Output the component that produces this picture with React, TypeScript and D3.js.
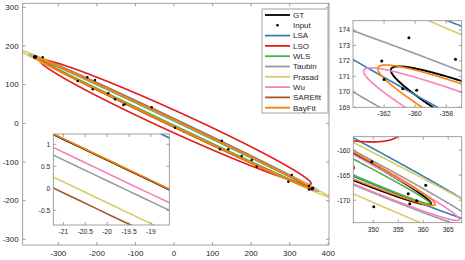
import React from 'react';
import * as d3 from 'd3';

const fitNames = ['GT', 'LSA', 'LSO', 'WLS', 'Taubin', 'Prasad', 'Wu', 'SAREfit', 'BayFit'];
const fitColors = ['#000000', '#377eb8', '#e41a1c', '#4daf4a', '#999999', '#d9cc66', '#f781bf', '#a65628', '#ff7f00'];
const centerX = [0, 0, 4, 2.5, 0, 0, 1.95, 0, 0];
const centerY = [0.35, 2.3, 3, -0.8, 0.0, 0.11, -1.25, 0.2, 0.35];
const semiMajor = [400, 415, 386, 397, 412, 448, 404, 383, 400.8];
const semiMinor = [8.3, 9, 27, 5, 8.4, 8.96, 7.95, 9.27, 8.28];
const angleDeg = [-25.33, -25.33, -24.4, -25.33, -25.3, -25.33, -25.3, -25.33, -25.29];

const inputX = [-360.4, -362.15, -357.4, -362.0, -360.8, -359.9, -340.4, -249.7, -224.8, -204.8, -210.8, -170.3, -153.0, -131.4, -128.0, -57.8, 2.6, 123.7, 119.3, 140.8, 175.5, 201.5, 214.4, 305.2, 296.3, 349.7, 360.5, 357.0, 358.7, 357.3, 350.1];
const inputY = [173.5, 172.0, 172.1, 170.8, 170.2, 170.1, 170.7, 109.4, 119.0, 112.0, 87.9, 77.6, 62.1, 47.3, 49.0, 41.4, -11.4, -45.0, -67.2, -67.2, -84.6, -94.9, -112.2, -133.7, -151.0, -162.3, -167.0, -168.7, -170.1, -170.7, -171.3];

const mainXTicks = [-300, -200, -100, 0, 100, 200, 300, 400];
const mainYTicks = [-300, -200, -100, 0, 100, 200, 300];
const inset1XTicks = [-21, -20.5, -20, -19.5, -19];
const inset1YTicks = [-0.5, 0, 0.5, 1];
const inset2XTicks = [-362, -360, -358];
const inset2YTicks = [169, 170, 171, 172, 173, 174];
const inset3XTicks = [350, 355, 360, 365];
const inset3YTicks = [-170, -165, -160];

const legendNames = ['GT', 'Input', 'LSA', 'LSO', 'WLS', 'Taubin', 'Prasad', 'Wu', 'SAREfit', 'BayFit'];

const AXIS_COLOR = '#8a8a8a';
const TEXT_COLOR = '#262626';
const FONT = 'Liberation Sans, Arial, Helvetica, sans-serif';

function ellipsePoints(i: number, n = 6000): [number, number][] {
  const th = (angleDeg[i] * Math.PI) / 180;
  const c = Math.cos(th), s = Math.sin(th);
  const pts: [number, number][] = [];
  for (let k = 0; k <= n; k++) {
    const t = (k / n) * 2 * Math.PI;
    const u = semiMajor[i] * Math.cos(t);
    const v = semiMinor[i] * Math.sin(t);
    pts.push([centerX[i] + u * c - v * s, centerY[i] + u * s + v * c]);
  }
  return pts;
}

type AxesProps = {
  id: string;
  left: number; top: number; width: number; height: number;
  xDomain: [number, number]; yDomain: [number, number];
  xTicks: number[]; yTicks: number[];
  fontSize: number; lw: number; dotR: number;
  xLabelDy: number; yLabelDx: number;
};

function Axes(p: AxesProps) {
  const xs = d3.scaleLinear().domain(p.xDomain).range([p.left, p.left + p.width]);
  const ys = d3.scaleLinear().domain(p.yDomain).range([p.top + p.height, p.top]);
  const line = d3.line<[number, number]>().x(d => xs(d[0])).y(d => ys(d[1]));
  const tl = 3;
  const bottom = p.top + p.height, right = p.left + p.width;
  return (
    <g>
      <defs>
        <clipPath id={p.id}>
          <rect x={p.left} y={p.top} width={p.width} height={p.height} />
        </clipPath>
      </defs>
      <rect x={p.left} y={p.top} width={p.width} height={p.height} fill="#fff" />
      <g clipPath={`url(#${p.id})`}>
        {fitNames.map((name, i) => (
          <path key={name} d={line(ellipsePoints(i)) || ''} fill="none" stroke={fitColors[i]}
            strokeWidth={i === 0 ? p.lw * 1.2 : p.lw} strokeLinejoin="round" />
        ))}
        {inputX.map((x, k) => (
          <circle key={k} cx={xs(x)} cy={ys(inputY[k])} r={p.dotR} fill="#000" />
        ))}
      </g>
      <rect x={p.left} y={p.top} width={p.width} height={p.height} fill="none" stroke={AXIS_COLOR} strokeWidth={0.8} />
      {p.xTicks.map(t => (
        <g key={'x' + t}>
          <line x1={xs(t)} x2={xs(t)} y1={bottom} y2={bottom - tl} stroke={AXIS_COLOR} strokeWidth={0.8} />
          <line x1={xs(t)} x2={xs(t)} y1={p.top} y2={p.top + tl} stroke={AXIS_COLOR} strokeWidth={0.8} />
          <text x={xs(t)} y={bottom + p.xLabelDy} textAnchor="middle" fontSize={p.fontSize} fill={TEXT_COLOR} fontFamily={FONT}>{String(t)}</text>
        </g>
      ))}
      {p.yTicks.map(t => (
        <g key={'y' + t}>
          <line x1={p.left} x2={p.left + tl} y1={ys(t)} y2={ys(t)} stroke={AXIS_COLOR} strokeWidth={0.8} />
          <line x1={right} x2={right - tl} y1={ys(t)} y2={ys(t)} stroke={AXIS_COLOR} strokeWidth={0.8} />
          <text x={p.left - p.yLabelDx} y={ys(t)} dy="0.35em" textAnchor="end" fontSize={p.fontSize} fill={TEXT_COLOR} fontFamily={FONT}>{String(t)}</text>
        </g>
      ))}
    </g>
  );
}

function Legend() {
  const x0 = 262, y0 = 9, w = 66, h = 104;
  const rowH = 10.3;
  const items = legendNames.map((name, k) => {
    const y = y0 + 6 + k * rowH;
    const fi = fitNames.indexOf(name);
    return (
      <g key={name}>
        {name === 'Input'
          ? <circle cx={277.5} cy={y} r={1.3} fill="#000" />
          : <line x1={265} x2={290} y1={y} y2={y} stroke={fitColors[fi]} strokeWidth={1.8} />}
        <text x={293} y={y} dy="0.35em" fontSize={8} fill={TEXT_COLOR} fontFamily={FONT}>{name}</text>
      </g>
    );
  });
  return (
    <g>
      <rect x={x0} y={y0} width={w} height={h} fill="#fff" stroke={AXIS_COLOR} strokeWidth={0.8} />
      {items}
    </g>
  );
}

export default function App() {
  return (
    <svg width={465} height={260} style={{ position: 'absolute', left: 0, top: 0, background: '#fff' }}>
      <rect width={465} height={260} fill="#fff" />
      <Axes id="main" left={22.7} top={3.3} width={306.3} height={241.7}
        xDomain={[-392.3, 401.9]} yDomain={[-314.7, 310.3]}
        xTicks={mainXTicks} yTicks={mainYTicks} fontSize={8} lw={1.6} dotR={1.2}
        xLabelDy={11} yLabelDx={4} />
      <Legend />
      <Axes id="in1" left={53.3} top={134} width={116} height={91}
        xDomain={[-21.23, -18.58]} yDomain={[-0.834, 1.234]}
        xTicks={inset1XTicks} yTicks={inset1YTicks} fontSize={6.7} lw={1.6} dotR={1.5}
        xLabelDy={9} yLabelDx={3} />
      <Axes id="in2" left={353} top={20.7} width={108.7} height={86.6}
        xDomain={[-364, -357]} yDomain={[169, 174.6]}
        xTicks={inset2XTicks} yTicks={inset2YTicks} fontSize={6.7} lw={1.6} dotR={1.5}
        xLabelDy={9} yLabelDx={3} />
      <Axes id="in3" left={353.3} top={136.7} width={108.4} height={86}
        xDomain={[346, 367.7]} yDomain={[-174.5, -157.3]}
        xTicks={inset3XTicks} yTicks={inset3YTicks} fontSize={6.7} lw={1.6} dotR={1.5}
        xLabelDy={9} yLabelDx={3} />
    </svg>
  );
}
